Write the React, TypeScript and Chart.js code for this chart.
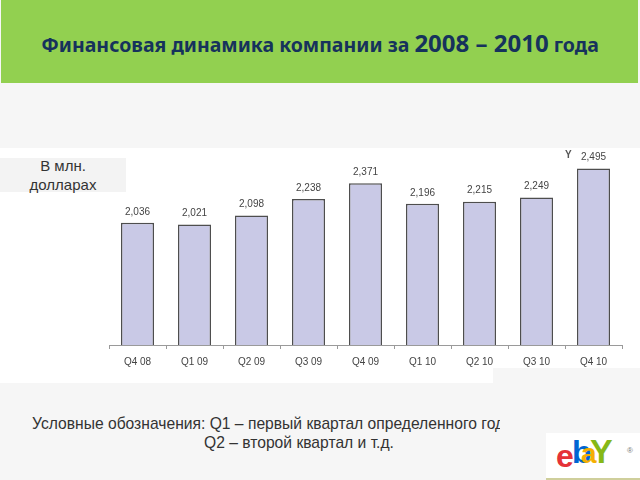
import React, { useEffect, useRef } from "react";
import { Chart, registerables } from "chart.js";

Chart.register(...registerables);

const categories = ["Q4 08", "Q1 09", "Q2 09", "Q3 09", "Q4 09", "Q1 10", "Q2 10", "Q3 10", "Q4 10"];
const revenue = [2036, 2021, 2098, 2238, 2371, 2196, 2215, 2249, 2495];
const yMin = 1000;
const yMax = 2500;

const titleText = "Финансовая динамика компании за ";
const titleYears = "2008 – 2010";
const titleTail = " года";
const unitLine1 = "В млн.";
const unitLine2 = "долларах";
const noteLine1 = "Условные обозначения: Q1 – первый квартал определенного года";
const noteLine2 = "Q2 – второй квартал и т.д.";

const labelFont = "'Liberation Sans', Arial, sans-serif";

const valueLabelPlugin = {
  id: "valueLabels",
  afterDatasetsDraw(chart: any) {
    const ctx = chart.ctx;
    const meta = chart.getDatasetMeta(0);
    const data = chart.data.datasets[0].data as number[];
    ctx.save();
    ctx.font = "10px " + labelFont;
    ctx.fillStyle = "#444";
    ctx.textAlign = "center";
    ctx.textBaseline = "middle";
    meta.data.forEach((el: any, i: number) => {
      ctx.fillText(data[i].toLocaleString("en-US"), el.x, el.y - 11);
    });
    ctx.restore();
  },
};

function BarChart() {
  const ref = useRef<HTMLCanvasElement>(null);
  useEffect(() => {
    if (!ref.current) return;
    const chart = new Chart(ref.current, {
      type: "bar",
      data: {
        labels: categories,
        datasets: [
          {
            data: revenue,
            backgroundColor: "#c9c9e6",
            borderColor: "#4e4e4e",
            borderWidth: 1.5,
            barPercentage: 0.58,
            categoryPercentage: 1,
          },
        ],
      },
      options: {
        animation: false,
        responsive: false,
        devicePixelRatio: 1,
        layout: { padding: { left: 109, right: 18, top: 28, bottom: 5 } },
        plugins: { legend: { display: false }, tooltip: { enabled: false } },
        scales: {
          x: {
            grid: {
              display: true,
              drawOnChartArea: false,
              drawTicks: true,
              tickLength: 4,
              color: "#9a9a9a",
              offset: true,
            },
            border: { display: true, color: "#9a9a9a", width: 1 },
            ticks: {
              font: { size: 10, family: labelFont },
              color: "#444",
              padding: 7,
              maxRotation: 0,
              autoSkip: false,
            },
          },
          y: { display: false, min: yMin, max: yMax },
        },
      },
      plugins: [valueLabelPlugin],
    });
    return () => chart.destroy();
  }, []);
  return (
    <canvas
      ref={ref}
      width={640}
      height={240}
      style={{ position: "absolute", left: 0, top: 140, width: 640, height: 240 }}
    />
  );
}

const noteStyle: any = {
  whiteSpace: "nowrap",
  fontFamily: "'Liberation Sans', Arial, sans-serif",
  fontSize: 17,
  color: "#333",
  lineHeight: "20px",
  transform: "scaleX(0.92)",
  transformOrigin: "left center",
};

export default function App() {
  return (
    <div
      style={{
        position: "absolute",
        left: 0,
        top: 0,
        width: 640,
        height: 480,
        background: "#f6f6f6",
        overflow: "hidden",
        fontFamily: "'Noto Sans', sans-serif",
      }}
    >
      <div
        style={{
          position: "absolute",
          left: 1,
          top: 0,
          width: 637,
          height: 83,
          background: "#92d050",
        }}
      />
      <div
        style={{
          position: "absolute",
          left: 0,
          top: 25,
          width: 640,
          textAlign: "center",
          color: "#16325c",
          fontWeight: 700,
          fontSize: 19.5,
          lineHeight: "36px",
          whiteSpace: "nowrap",
        }}
      >
        {titleText}
        <span style={{ fontSize: 24 }}>{titleYears}</span>
        {titleTail}
      </div>
      <div style={{ position: "absolute", left: 0, top: 148, width: 640, height: 235, background: "#ffffff" }} />
      <div style={{ position: "absolute", left: 493, top: 368, width: 147, height: 15, background: "#f6f6f6" }} />
      <div
        style={{
          position: "absolute",
          left: 0,
          top: 158,
          width: 126,
          height: 34,
          background: "#f3f3f3",
          textAlign: "center",
          color: "#333",
          fontSize: 15,
          lineHeight: "19px",
          fontFamily: "'Liberation Sans', Arial, sans-serif",
        }}
      >
        <div style={{ marginTop: -2 }}>{unitLine1}</div>
        <div>{unitLine2}</div>
      </div>
      <BarChart />
      <div
        style={{
          position: "absolute",
          left: 565,
          top: 149,
          fontSize: 10,
          fontWeight: 700,
          color: "#555",
          fontFamily: labelFont,
        }}
      >
        Y
      </div>
      <div style={{ position: "absolute", left: 32, top: 414, width: 468, height: 22, overflow: "hidden" }}>
        <div style={noteStyle}>{noteLine1}</div>
      </div>
      <div style={{ position: "absolute", left: 204, top: 433 }}>
        <div style={noteStyle}>{noteLine2}</div>
      </div>
      <div
        style={{
          position: "absolute",
          left: 546,
          top: 433,
          width: 94,
          height: 45,
          background: "#ffffff",
          borderBottom: "2px solid #cfcf9c",
        }}
      />
      <div style={{ position: "absolute", left: 0, top: 0, fontFamily: "'Liberation Sans', Arial, sans-serif", fontWeight: 700 }}>
        <span style={{ position: "absolute", left: 556, top: 438, fontSize: 32, color: "#e53238" }}>e</span>
        <span style={{ position: "absolute", left: 572, top: 434, fontSize: 32, color: "#0064d2" }}>b</span>
        <span style={{ position: "absolute", left: 581, top: 438, fontSize: 28, color: "#f5af02" }}>a</span>
        <span style={{ position: "absolute", left: 590, top: 432, fontSize: 34, color: "#86b817" }}>Y</span>
        <span style={{ position: "absolute", left: 627, top: 446, fontSize: 8, color: "#777", fontWeight: 400 }}>®</span>
      </div>
    </div>
  );
}
